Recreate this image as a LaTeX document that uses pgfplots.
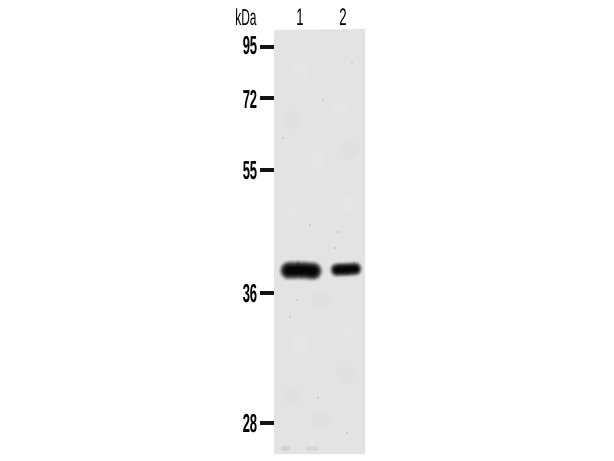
\documentclass[border=0pt]{standalone}
\usepackage{fontspec}
\setmainfont{Liberation Sans}
\usepackage{graphicx}
\usepackage{pgfplots}
\usepackage{pgfplotstable}
\pgfplotsset{compat=1.18}
\pgfplotstableread{
x y
289 270.5
298 270.2
306 270.4
313 271
}\bandone
\pgfplotstableread{
x y
337 269.8
346 269.4
355 268.9
}\bandtwo
\newcommand{\lab}[1]{\scalebox{0.5}[1]{\fontsize{26}{26}\selectfont\bfseries #1}}
\begin{document}
\begin{tikzpicture}
\begin{axis}[
    width=614pt, height=461pt, scale only axis,
    xmin=0, xmax=614, ymin=0, ymax=461,
    y dir=reverse,
    axis lines=none,
    clip=false,
    every axis plot/.append style={no markers, line cap=round, line join=round},
]
% page
\addplot[fill=white, draw=none] coordinates {(0,0) (614,0) (614,461) (0,461)} -- cycle;
% membrane
\addplot[fill=black!11, draw=none] coordinates {(274,30) (365,29) (365,454) (274,454)} -- cycle;
% mottling
\addplot[only marks, mark=*, mark size=9pt, mark options={draw=black!10, fill=black!10}] coordinates {
(300,70) (340,110) (318,160) (345,205) (295,215) (345,330) (300,345)};
\addplot[only marks, mark=*, mark size=9pt, mark options={draw=black!12, fill=black!12}] coordinates {
(292,395) (345,375) (320,420) (290,120) (350,150) (320,300)};
\addplot[line width=5pt, black!20, opacity=0.7] coordinates {(283,448) (288,448)};
\addplot[line width=5pt, black!17, opacity=0.7] coordinates {(308,448) (316,448)};
\addplot[only marks, mark=*, mark size=0.7pt, mark options={draw=black!24, fill=black!24}] coordinates {
(283,138) (323,100) (310,225) (352,62) (297,300) (347,433) (318,398) (338,232) (290,317) (335,248)};
% band halo to core, lane 1
\addplot[line width=22pt, black!15] table {\bandone};
\addplot[line width=20pt, black!26] table {\bandone};
\addplot[line width=18pt, black!40] table {\bandone};
\addplot[line width=16pt, black!56] table {\bandone};
\addplot[line width=14pt, black!72] table {\bandone};
\addplot[line width=12pt, black!84] table {\bandone};
\addplot[line width=9.5pt, black!92] table {\bandone};
\addplot[line width=6.5pt, black!98] table {\bandone};
% lane 2
\addplot[line width=17pt, black!15] table {\bandtwo};
\addplot[line width=15pt, black!28] table {\bandtwo};
\addplot[line width=13pt, black!46] table {\bandtwo};
\addplot[line width=11pt, black!66] table {\bandtwo};
\addplot[line width=9pt, black!82] table {\bandtwo};
\addplot[line width=6.5pt, black!92] table {\bandtwo};
\addplot[line width=4pt, black!98] table {\bandtwo};
% marker ticks
\addplot[line width=3.5pt, black!92, line cap=butt] coordinates {(260,47) (274,47)};
\addplot[line width=3.5pt, black!92, line cap=butt] coordinates {(260,98) (274,98)};
\addplot[line width=3.5pt, black!92, line cap=butt] coordinates {(260,170) (274,170)};
\addplot[line width=3.5pt, black!92, line cap=butt] coordinates {(260,293) (274,293)};
\addplot[line width=3.5pt, black!92, line cap=butt] coordinates {(260,423) (274,423)};
% labels
\node[inner sep=0pt] at (axis cs:250,46) {\lab{95}};
\node[inner sep=0pt] at (axis cs:250,99) {\lab{72}};
\node[inner sep=0pt] at (axis cs:250,171) {\lab{55}};
\node[inner sep=0pt] at (axis cs:250,294) {\lab{36}};
\node[inner sep=0pt] at (axis cs:250,424) {\lab{28}};
\node[inner sep=0pt] at (axis cs:246,17) {\scalebox{0.52}[1]{\fontsize{23}{23}\selectfont kDa}};
\node[inner sep=0pt] at (axis cs:300,17) {\scalebox{0.55}[1]{\fontsize{24}{24}\selectfont 1}};
\node[inner sep=0pt] at (axis cs:343,17) {\scalebox{0.55}[1]{\fontsize{24}{24}\selectfont 2}};
\end{axis}
\end{tikzpicture}
\end{document}
